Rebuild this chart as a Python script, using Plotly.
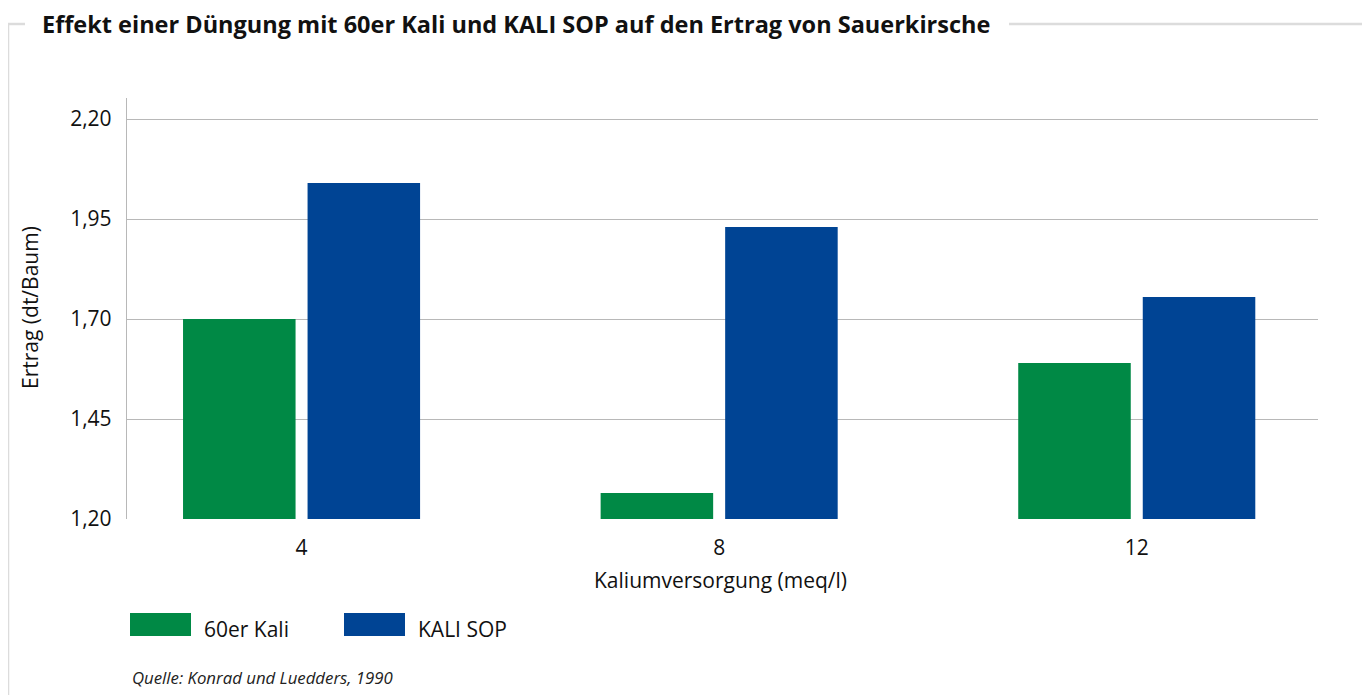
import plotly.graph_objects as go

categories = ["4", "8", "12"]
kali60 = [1.70, 1.265, 1.59]
kalisop = [2.04, 1.93, 1.755]
series_names = ["60er Kali", "KALI SOP"]
colors = ["#008945", "#004494"]
y_ticks = [1.20, 1.45, 1.70, 1.95, 2.20]

OFF = 8  # page body margin
W, H = 1362, 687
L, R, T, B = 119, 52, 90, 176
FONT = "Open Sans"
FS = 21

fig = go.Figure()
for name, vals, col in zip(series_names, [kali60, kalisop], colors):
    fig.add_trace(go.Bar(x=categories, y=vals, name=name, marker_color=col,
                         marker_line_width=0, showlegend=False))

def px_x(p):
    return (p - OFF - L) / (W - L - R)

def px_y(p):
    return 1 - (p - OFF - T) / (H - T - B)

FRAME = "#dcdcdc"
shapes = [
    dict(type="line", xref="paper", yref="paper", x0=px_x(8), x1=px_x(8), y0=px_y(24), y1=px_y(720),
         line=dict(color=FRAME, width=2.5)),
    dict(type="line", xref="paper", yref="paper", x0=px_x(7), x1=px_x(25), y0=px_y(24), y1=px_y(24),
         line=dict(color=FRAME, width=2.5)),
    dict(type="line", xref="paper", yref="paper", x0=px_x(1009), x1=px_x(1366), y0=px_y(24), y1=px_y(24),
         line=dict(color=FRAME, width=2.5)),
    dict(type="line", xref="paper", yref="paper", x0=px_x(1365), x1=px_x(1365), y0=px_y(24), y1=px_y(720),
         line=dict(color=FRAME, width=2.5)),
]
annotations = [
    dict(text="<b>Effekt einer Düngung mit 60er Kali und KALI SOP auf den Ertrag von Sauerkirsche</b>",
         xref="paper", yref="paper", x=px_x(40), y=px_y(24), xanchor="left", yanchor="middle",
         showarrow=False, font=dict(family=FONT, size=23.5, color="#111111")),
    dict(text="<i>Quelle: Konrad und Luedders, 1990</i>", xref="paper", yref="paper",
         x=px_x(130), y=px_y(677), xanchor="left", yanchor="middle", showarrow=False,
         font=dict(family=FONT, size=16.8, color="#222222")),
    dict(text="Ertrag (dt/Baum)", xref="paper", yref="paper", x=px_x(30), y=px_y(308),
         xanchor="center", yanchor="middle", textangle=-90, showarrow=False,
         font=dict(family=FONT, size=FS, color="#111111")),
    dict(text="Kaliumversorgung (meq/l)", xref="paper", yref="paper", x=px_x(720), y=px_y(580),
         xanchor="center", yanchor="middle", showarrow=False,
         font=dict(family=FONT, size=FS, color="#111111")),
]
leg_x = [130, 344]
for i, (name, col) in enumerate(zip(series_names, colors)):
    x0 = leg_x[i]
    shapes.append(dict(type="rect", xref="paper", yref="paper", x0=px_x(x0), x1=px_x(x0 + 61),
                       y0=px_y(636), y1=px_y(613), fillcolor=col, line_width=0))
    annotations.append(dict(text=name, xref="paper", yref="paper", x=px_x(x0 + 72), y=px_y(629),
                            xanchor="left", yanchor="middle", showarrow=False,
                            font=dict(family=FONT, size=FS, color="#111111")))

fig.update_layout(
    width=W, height=H,
    margin=dict(l=L, r=R, t=T, b=B),
    paper_bgcolor="white", plot_bgcolor="white",
    separators=",.",
    barmode="group", bargap=0.4036, bargroupgap=0.0964,
    font=dict(family=FONT, size=FS, color="#111111"),
    shapes=shapes, annotations=annotations,
    xaxis=dict(range=[-0.418, 2.434], showgrid=False, showline=False, ticks="",
               ticklabelstandoff=14, tickfont=dict(size=FS)),
    yaxis=dict(range=[1.2, 2.2525], tickvals=y_ticks, tickformat=".2f",
               showgrid=True, gridcolor="#b8b8b8", gridwidth=1.3,
               showline=True, linecolor="#b8b8b8", linewidth=1.3, ticks="",
               ticklabelstandoff=10, tickfont=dict(size=FS),
               zeroline=False),
)
fig.write_html("out.html")
